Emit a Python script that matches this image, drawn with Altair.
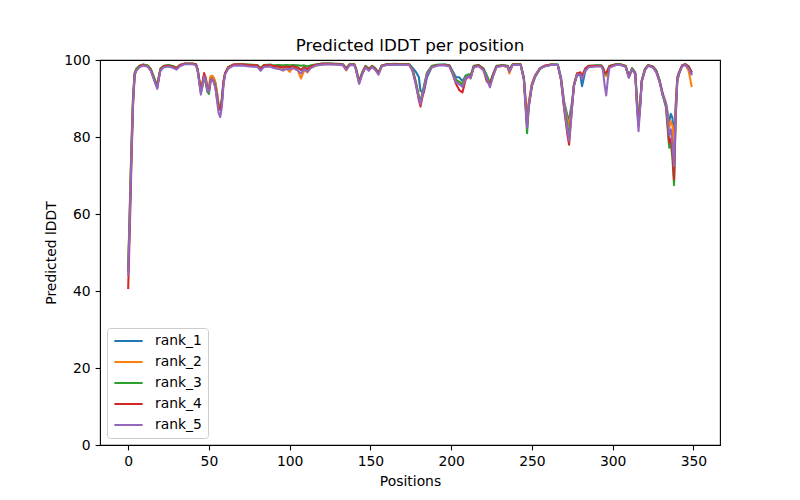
import altair as alt
import pandas as pd

positions = [
    0, 1, 2, 3, 4, 5, 7, 9, 12, 14,
    16, 18, 19, 20, 22, 25, 28, 30, 32, 35,
    40, 42, 43, 45, 46, 47, 48, 49, 50, 51,
    52, 53, 54, 55, 56, 57, 58, 59, 60, 62,
    65, 70, 75, 80, 82, 84, 88, 90, 93, 96,
    98, 100, 102, 105, 107, 109, 111, 113, 116, 120,
    125, 130, 133, 135, 137, 140, 141, 143, 145, 147,
    149, 151, 153, 155, 157, 160, 165, 170, 174, 176,
    178, 180, 181, 183, 185, 188, 192, 196, 199, 201,
    203, 205, 207, 209, 211, 212, 214, 217, 220, 222,
    224, 226, 228, 232, 235, 236, 238, 243, 245, 247,
    248, 250, 252, 255, 258, 262, 266, 268, 270, 272,
    273, 275, 276, 278, 280, 281, 283, 285, 290, 293,
    294, 295, 296, 297, 298, 302, 305, 308, 310, 312,
    314, 315, 316, 317, 318, 320, 322, 325, 327, 329,
    331, 333, 335, 336, 337, 338, 339, 340, 341, 343,
    345, 347, 349,
]

rank_1 = [
    45, 61, 77, 90, 96.5, 97.5, 98.4, 98.8, 98.5, 97.5,
    95.2, 93, 95.5, 97.5, 98.3, 98.5, 98.1, 97.8, 98.6, 99,
    99, 98.8, 97.5, 92, 94, 96, 95.2, 92.8, 92.5, 95.5,
    95.8, 95.3, 94, 91.5, 88.5, 87.8, 90, 94.5, 96.6, 98.1,
    98.7, 98.8, 98.6, 98.5, 97.6, 98.5, 98.6, 98.3, 98.2, 98,
    98.2, 98, 98.3, 98, 97.4, 98, 97.6, 98.3, 98.7, 99,
    99, 98.9, 98.8, 97.6, 98.8, 98.8, 97.8, 94.3, 96.7, 98.3,
    97.6, 98.4, 97.7, 96.6, 98.5, 98.8, 98.9, 98.8, 98.8, 98,
    97, 95.5, 92, 91.5, 95.5, 98.2, 98.7, 98.8, 98.5, 97,
    95.5, 95.5, 94.5, 96, 96.2, 95.8, 98.4, 98.6, 97.7, 96,
    93.8, 96.3, 98.3, 98.6, 98.4, 97.4, 98.8, 98.8, 95.5, 84.5,
    88.5, 93.8, 96, 97.9, 98.5, 98.8, 98.8, 95.5, 89, 85.5,
    84.5, 89.5, 93.5, 96.2, 96, 93.2, 97, 98.3, 98.5, 98.5,
    97.9, 96.5, 96, 97.2, 98.3, 98.8, 98.8, 98.4, 95.8, 97.8,
    96.5, 90, 85, 88.5, 94.7, 97.6, 98.6, 98.2, 97.2, 94.8,
    91.3, 88.8, 84, 86, 85, 79, 88, 95.5, 96.8, 98.6,
    98.9, 98.2, 96.2,
]

rank_2 = [
    46, 62, 78, 90.5, 96.6, 97.6, 98.4, 98.7, 98.5, 97.6,
    95.3, 93.2, 95.6, 97.6, 98.3, 98.6, 98.3, 97.9, 98.6, 99,
    99, 98.8, 97.6, 92.3, 94.2, 96.2, 95.4, 93, 92.8, 95.8,
    95.9, 95.4, 94.2, 91.5, 88.2, 87.5, 89.5, 94.3, 96.5, 98.1,
    98.7, 98.8, 98.6, 98.5, 97.7, 98.5, 98.6, 98.2, 98, 97.3,
    97.9, 96.9, 98, 97.3, 95.2, 97.4, 96.8, 98, 98.6, 98.9,
    99, 98.9, 98.7, 97.3, 98.7, 98.8, 97.6, 94, 96.5, 98.2,
    97.4, 98.3, 97.5, 96.4, 98.4, 98.8, 98.9, 98.8, 98.8, 97.6,
    94.5, 90.5, 89.2, 92.5, 96.5, 98.3, 98.7, 98.7, 98.4, 96.5,
    94.8, 94.3, 93.8, 95.7, 96.1, 95.6, 98.3, 98.5, 97.5, 95.6,
    93.5, 96, 98.2, 98.5, 98.1, 96.5, 98.7, 98.8, 95.3, 84.8,
    89, 94, 96, 97.9, 98.5, 98.8, 98.7, 95.2, 88.5, 84.5,
    83, 89, 93.8, 96.6, 96.6, 95.3, 97.4, 98.3, 98.4, 98.4,
    97.8, 96.3, 95.8, 97, 98.2, 98.7, 98.7, 98.3, 95.6, 97.6,
    96.4, 89.5, 84.5, 88.5, 94.6, 97.5, 98.6, 98.1, 96.9, 94.6,
    91, 88.6, 82.5, 84, 83, 77, 88, 95.3, 96.6, 98.5,
    98.8, 97.2, 93,
]

rank_3 = [
    45.5, 60, 76, 89.5, 96.4, 97.7, 98.5, 98.8, 98.6, 97.7,
    95.5, 93.3, 95.8, 97.8, 98.5, 98.7, 98.4, 98, 98.7, 99.1,
    99.1, 98.9, 97.6, 91.5, 93.2, 95.5, 94, 91.8, 91.2, 94.3,
    95, 94.5, 93.3, 90.5, 87.8, 87, 89, 94, 96.4, 98.2,
    98.8, 98.9, 98.8, 98.7, 97.9, 98.7, 98.8, 98.6, 98.7, 98.6,
    98.7, 98.6, 98.7, 98.6, 98.5, 98.6, 98.4, 98.6, 98.8, 99.1,
    99.1, 99, 98.9, 97.9, 98.9, 98.9, 97.9, 94.5, 96.9, 98.5,
    97.8, 98.5, 97.9, 96.8, 98.6, 98.9, 99, 98.9, 98.9, 97.8,
    94.5, 90.5, 89.3, 93, 96.7, 98.5, 98.8, 98.8, 98.6, 96.8,
    94.8, 94.3, 93.5, 95.8, 96.3, 95.8, 98.5, 98.7, 97.8, 96,
    94, 96.4, 98.5, 98.7, 98.5, 97.6, 98.9, 98.9, 95, 81,
    87.5, 93.2, 95.6, 97.7, 98.4, 98.8, 98.8, 95, 88, 83,
    80, 89, 93.5, 96.5, 96.4, 95.5, 97.5, 98.5, 98.6, 98.6,
    98, 96.8, 96.4, 97.4, 98.5, 98.9, 98.9, 98.5, 95.9, 97.9,
    96.8, 89.5, 84, 88.3, 94.6, 97.7, 98.7, 98.3, 97.3, 94.7,
    90.8, 87.7, 77.2, 78.5, 74.5, 67.5, 85, 94.5, 96.3, 98.5,
    98.9, 98.4, 96.8,
]

rank_4 = [
    40.5, 56, 73, 88, 96, 97.3, 98.3, 98.7, 98.4, 97.4,
    95, 92.8, 95.4, 97.5, 98.4, 98.5, 98.2, 97.8, 98.7, 99,
    99, 98.8, 97.5, 91.8, 94, 96.6, 95.3, 92.5, 92, 94.8,
    95, 94.3, 93, 90, 87.5, 87.2, 89, 94.2, 96.5, 98.1,
    98.8, 98.9, 98.7, 98.6, 97.8, 98.6, 98.7, 98.4, 98.3, 98.1,
    98.3, 98.2, 98.4, 98, 97.5, 98.1, 97.7, 98.3, 98.7, 99,
    99, 98.9, 98.8, 97.7, 98.8, 98.8, 97.7, 94.2, 96.6, 98.3,
    97.5, 98.4, 97.6, 96.5, 98.5, 98.8, 98.9, 98.8, 98.8, 97.4,
    94, 89.5, 87.9, 92, 96.2, 98.2, 98.7, 98.7, 98.5, 96.3,
    93.8, 92.2, 91.6, 95, 95.8, 95.3, 98.3, 98.6, 97.5, 94.5,
    93.6, 96.2, 98.3, 98.6, 98.3, 97.2, 98.8, 98.8, 95.2, 83,
    88, 93.5, 95.8, 97.8, 98.5, 98.8, 98.7, 94.8, 87.2, 80.5,
    78, 88.5, 93.2, 96.5, 96.8, 95.8, 97.8, 98.4, 98.5, 98.5,
    97.9, 96.6, 96.8, 97.4, 98.4, 98.8, 98.8, 98.4, 95.5, 97.7,
    96.3, 88.5, 83, 88, 94.5, 97.5, 98.6, 98.2, 97, 94.5,
    91, 88.3, 78.6, 79.5, 76, 69, 85.5, 94.8, 96.5, 98.6,
    98.9, 98.3, 96.7,
]

rank_5 = [
    44, 59, 75, 89, 96.2, 97.2, 98.1, 98.5, 98.3, 97.2,
    94.8, 92.5, 95.2, 97.3, 98.1, 98.3, 97.9, 97.5, 98.4, 98.9,
    98.9, 98.6, 97.2, 91, 93.3, 95.8, 94.8, 92, 91.8, 94.5,
    95, 94.3, 92.8, 89.5, 86.2, 85.2, 87.8, 93.5, 96.2, 97.8,
    98.5, 98.6, 98.3, 98.2, 97.2, 98.2, 98.3, 97.9, 97.7, 97.3,
    97.7, 97.6, 97.9, 97.3, 96.5, 97.6, 97, 97.9, 98.5, 98.8,
    98.9, 98.8, 98.6, 97.4, 98.6, 98.7, 97.5, 93.8, 96.4, 98.1,
    97.2, 98.2, 97.4, 96.2, 98.4, 98.7, 98.8, 98.7, 98.7, 97.3,
    93.8, 90, 88.5, 92.5, 96.3, 98.1, 98.6, 98.6, 98.3, 96.3,
    94.2, 93.7, 93, 95.3, 95.8, 95.2, 98.1, 98.4, 97.3, 95.2,
    92.9, 95.8, 98.1, 98.5, 98.2, 97, 98.7, 98.7, 95, 82.5,
    88, 93.5, 95.8, 97.8, 98.4, 98.7, 98.7, 95, 87.5, 81.5,
    79, 88.5, 93.3, 96.3, 96.2, 95, 97.2, 98.1, 98.3, 98.3,
    97.3, 93.5, 90.8, 95, 98, 98.7, 98.7, 98.2, 95.4, 97.6,
    96.3, 88, 81.5, 87.5, 94.3, 97.4, 98.5, 98, 96.8, 94.3,
    90.8, 88.5, 80.5, 82, 78, 72.5, 86, 94.5, 96.3, 98.4,
    98.7, 97.8, 96,
]

series_names = ["rank_1", "rank_2", "rank_3", "rank_4", "rank_5"]
series_values = [rank_1, rank_2, rank_3, rank_4, rank_5]
colors = ["#1f77b4", "#ff7f0e", "#2ca02c", "#d62728", "#9467bd"]
x_ticks = [0, 50, 100, 150, 200, 250, 300, 350]
y_ticks = [0, 20, 40, 60, 80, 100]

rows = []
for name, vals in zip(series_names, series_values):
    n = min(len(positions), len(vals))
    for i in range(n):
        rows.append({"pos": positions[i], "val": vals[i], "rank": name})
df = pd.DataFrame(rows)

FONT = "DejaVu Sans"

chart = (
    alt.Chart(df)
    .mark_line(strokeWidth=2.08, strokeJoin="round")
    .encode(
        x=alt.X(
            "pos:Q",
            scale=alt.Scale(domain=[-17.45, 366.45], nice=False, zero=False),
            axis=alt.Axis(values=x_ticks, title="Positions", format="d"),
        ),
        y=alt.Y(
            "val:Q",
            scale=alt.Scale(domain=[0, 100], nice=False),
            axis=alt.Axis(values=y_ticks, title="Predicted lDDT", format="d"),
        ),
        color=alt.Color(
            "rank:N",
            scale=alt.Scale(domain=series_names, range=colors),
            legend=alt.Legend(
                title=None,
                orient="bottom-left",
                offset=7,
                symbolType="stroke",
                symbolSize=800,
                symbolStrokeWidth=2.08,
                clipHeight=14,
                labelFontSize=13.9,
                labelFont=FONT,
                labelOffset=11,
                rowPadding=7,
                padding=6,
                fillColor="rgba(255,255,255,0.8)",
                strokeColor="#cccccc",
                cornerRadius=3,
            ),
        ),
        order=alt.Order("pos:Q"),
    )
    .properties(
        width=620,
        height=385,
        autosize=alt.AutoSizeParams(type="none"),
        padding={"left": 92, "top": 52, "right": 60, "bottom": 47},
        title=alt.TitleParams(
            "Predicted lDDT per position",
            fontSize=16.7,
            font=FONT,
            fontWeight="normal",
            anchor="middle",
            frame="group",
            offset=8,
            dy=10,
            color="black",
        ),
    )
    .configure_view(stroke="black", strokeWidth=1.1)
    .configure_axis(
        grid=False,
        domain=False,
        tickColor="black",
        tickWidth=1.1,
        tickSize=4.9,
        labelPadding=4.9,
        labelFont=FONT,
        labelFontSize=13.9,
        labelColor="black",
        titleFont=FONT,
        titleFontSize=13.9,
        titleFontWeight="normal",
        titleColor="black",
        titlePadding=5.6,
    )
)

chart.save("out.html", embed_options={"renderer": "svg", "actions": False})
